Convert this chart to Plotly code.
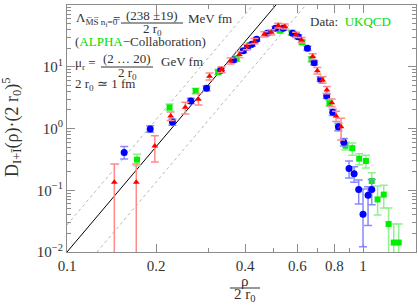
import plotly.graph_objects as go

W, H = 418, 306
ML, MR, MT, MB = 67, 2, 5, 54

# ---------------- data ----------------
blue_x = [0.156, 0.191, 0.227, 0.262, 0.296, 0.331, 0.365, 0.394, 0.407, 0.421, 0.437, 0.475, 0.506, 0.538,
          0.578, 0.604, 0.649, 0.684, 0.719, 0.754, 0.790, 0.826, 0.861, 0.897, 0.933, 0.967, 1.000, 1.040, 1.070]
blue_y = [0.41, 0.98, 1.27, 2.8, 4.5, 8.8, 12.9, 18.2, 20.9, 23.1, 27.8, 34.8, 42, 42,
          34.8, 30.7, 19.9, 11.6, 6.3, 3.36, 1.83, 1.07, 0.60, 0.226, 0.185, 0.103, 0.041, 0.083, 0.103]
blue_hi = [0.51, 1.11, 1.42, 3.1, 4.9, 9.5, 13.9, 19.6, 22.4, 24.8, 29.8, 37.2, 44.9, 45,
           37.3, 33, 21.5, 12.6, 6.9, 3.7, 2.05, 1.22, 0.69, 0.298, 0.24, 0.146, 0.105, 0.114, 0.15]
blue_lo = [0.32, 0.87, 1.13, 2.55, 4.1, 8.1, 11.9, 16.9, 19.4, 21.5, 25.9, 32.5, 39.2, 39,
           32.4, 28.5, 18.4, 10.7, 5.75, 3.05, 1.63, 0.93, 0.52, 0.158, 0.135, 0.0597, 0.0122, 0.0268, 0.058]

red_x = [0.1445, 0.1714, 0.198, 0.224, 0.251, 0.278, 0.303, 0.333, 0.357, 0.382, 0.405, 0.43, 0.464,
         0.490, 0.517, 0.544, 0.594, 0.620, 0.676, 0.701, 0.730, 0.755, 0.784, 0.811, 0.843]
red_y = [0.1345, 0.1345, 0.52, 1.59, 2.2, 2.97, 7.0, 9.0, 12.4, 15.8, 21, 26, 33.5,
         36.2, 46.5, 45, 33, 27, 14.6, 8.6, 6.1, 4.2, 2.62, 1.59, 1.07]
red_hi = [0.266, 0.266, 0.76, 1.85, 2.67, 3.7, 7.9, 10.0, 13.8, 17.6, 23.2, 28.7, 36.8,
          39.7, 50.8, 49.2, 36.3, 29.8, 16.2, 9.7, 6.9, 4.8, 3.0, 1.9, 1.46]
red_lo = [0.001, 0.001, 0.286, 1.35, 1.72, 2.4, 6.1, 8.1, 11.1, 14.1, 18.9, 23.5, 30.4,
          32.8, 42.3, 41, 29.9, 24.4, 13.1, 7.6, 5.4, 3.65, 2.25, 1.3, 0.65]

green_x = [0.1724, 0.222, 0.272, 0.324, 0.374, 0.415, 0.525, 0.574, 0.623, 0.670, 0.770, 0.826,
           0.873, 0.920, 0.971, 1.023, 1.07, 1.12, 1.175, 1.22, 1.27, 1.32]
green_y = [0.313, 2.2, 4.05, 8.2, 13.5, 22.5, 38.4, 35.6, 24.9, 13.2, 2.56, 1.02,
           0.526, 0.48, 0.325, 0.298, 0.141, 0.071, 0.085, 0.0284, 0.0142, 0.0142]
green_hi = [0.382, 2.5, 4.5, 9.0, 14.8, 24.5, 41.5, 38.5, 27, 14.5, 2.85, 1.15,
            0.60, 0.58, 0.39, 0.37, 0.192, 0.117, 0.12, 0.0517, 0.0284, 0.0284]
green_lo = [0.25, 1.95, 3.65, 7.5, 12.3, 20.6, 35.5, 32.9, 22.9, 12.0, 2.3, 0.9,
            0.45, 0.37, 0.26, 0.23, 0.099, 0.0398, 0.0517, 0.001, 0.001, 0.001]

# reference power-law lines (end points)
solid_x = [0.1, 0.508]
solid_y = [0.01, 100]
dash_up_x = [0.1, 0.425]
dash_up_y = [0.0274, 100]
dash_lo_x = [0.1263, 0.641]
dash_lo_y = [0.01, 100]

x_tickvals = [0.1, 0.2, 0.4, 0.6, 0.8, 1]
x_ticktext = ["0.1", "0.2", "0.4", "0.6", "0.8", "1"]
x_minor = [0.3, 0.5, 0.7, 0.9]
y_tickvals = [0.01, 0.1, 1, 10, 100]
y_ticktext = ["10<sup>\u22122</sup>", "10<sup>\u22121</sup>", "10<sup>0</sup>", "10<sup>1</sup>", "10<sup>2</sup>"]
y_minor = [m * 10 ** e for e in (-2, -1, 0, 1) for m in range(2, 10)]

FONT = "Liberation Serif"
TXT = "#333333"
AX = "#8c8c8c"


def errs(y, hi, lo):
    return [h - v for v, h in zip(y, hi)], [v - l for v, l in zip(y, lo)]


fig = go.Figure()

for xs, ys, dash, col in [(dash_up_x, dash_up_y, "3px,3px", "#b8b8b8"),
                           (dash_lo_x, dash_lo_y, "3px,3px", "#b8b8b8"),
                           (solid_x, solid_y, "solid", "#000000")]:
    fig.add_trace(go.Scatter(x=xs, y=ys, mode="lines",
                             line=dict(color=col, width=1, dash=dash),
                             hoverinfo="skip", showlegend=False))

for xs, ys, hi, lo, col, ecol, sym, size in [
        (green_x, green_y, green_hi, green_lo, "#00ee00", "#90f090", "square", 6),
        (blue_x, blue_y, blue_hi, blue_lo, "#0000ff", "#8a8aff", "circle", 7),
        (red_x, red_y, red_hi, red_lo, "#ff0000", "#ff8a8a", "triangle-up", 6)]:
    p, m = errs(ys, hi, lo)
    fig.add_trace(go.Scatter(
        x=xs, y=ys, mode="markers",
        marker=dict(color=col, symbol=sym, size=size, line=dict(width=0)),
        error_y=dict(type="data", symmetric=False, array=p, arrayminus=m,
                     color=ecol, thickness=1.5, width=4),
        showlegend=False))

PW = W - ML - MR
PH = H - MT - MB


def P(px, py):
    return (px - ML) / PW, (H - MB - py) / PH


annots = []
shapes = []


def txt(px, py, s, size=13, xa="left", ya="middle", color=TXT, angle=0):
    x, y = P(px, py)
    annots.append(dict(x=x, y=y, xref="paper", yref="paper", text=s, showarrow=False,
                       xanchor=xa, yanchor=ya, textangle=angle,
                       font=dict(family=FONT, size=size, color=color)))


def bar(x0, x1, py):
    a, b = P(x0, py)
    c, d = P(x1, py)
    shapes.append(dict(type="line", xref="paper", yref="paper", x0=a, x1=c, y0=b, y1=d,
                       line=dict(color=TXT, width=1)))


GREEN = "#00dd00"
# line 1
txt(74, 19, "\u039b<sub>M\u0305S\u0305 n<sub>f</sub>=0</sub>")
txt(111, 18, "=")
txt(152, 15, "(238 \u00b119)", xa="center")
bar(121, 183, 23)
txt(152, 29, "2 r<sub>0</sub>", xa="center")
txt(186, 18, "MeV fm")
# line 2
txt(73, 41, "(<span style='color:%s'>ALPHA</span>\u2212Collaboration)" % GREEN)
# line 3
txt(73, 63, "\u03bc<sub>r</sub> =")
txt(127, 59, "(2 \u2026 20)", xa="center")
bar(101, 153, 67)
txt(127, 73, "2 r<sub>0</sub>", xa="center")
txt(159, 61, "GeV fm")
# line 4
txt(73, 84, "2 r<sub>0</sub> \u2243 1 fm")
# data label
txt(308, 22, "Data:  <span style='color:%s'>UKQCD</span>" % GREEN)
# x title
txt(245, 281, "\u03c1", size=15, xa="center")
bar(230, 260, 288)
txt(245, 295, "2 r<sub>0</sub>", size=15, xa="center")
# y title
txt(11, 127, "D<sub>I+\u012a</sub>(\u03c1)\u00b7(2 r<sub>0</sub>)<sup>5</sup>", size=18, xa="center", angle=-90)

axis_common = dict(type="log", showline=True, linecolor=AX, linewidth=1, mirror="allticks",
                   ticks="inside", ticklen=8, tickcolor=AX, tickwidth=1, showgrid=False, zeroline=False,
                   automargin=False,
                   tickfont=dict(family=FONT, size=15, color=TXT))

fig.update_layout(
    width=W, height=H, margin=dict(l=ML, r=MR, t=MT, b=MB),
    paper_bgcolor="white", plot_bgcolor="white",
    xaxis=dict(range=[-1, 0.179], tickmode="array", tickvals=x_tickvals, ticktext=x_ticktext,
               minor=dict(tickmode="array", tickvals=x_minor, ticks="inside", ticklen=4, tickcolor=AX),
               **axis_common),
    yaxis=dict(range=[-2, 2], tickmode="array", tickvals=y_tickvals, ticktext=y_ticktext,
               minor=dict(tickmode="array", tickvals=y_minor, ticks="inside", ticklen=4, tickcolor=AX),
               **axis_common),
    annotations=annots, shapes=shapes, showlegend=False,
)

fig.write_html("out.html", config={"displayModeBar": False},
               post_script="document.body.style.margin='0px';document.body.style.overflow='hidden';")
